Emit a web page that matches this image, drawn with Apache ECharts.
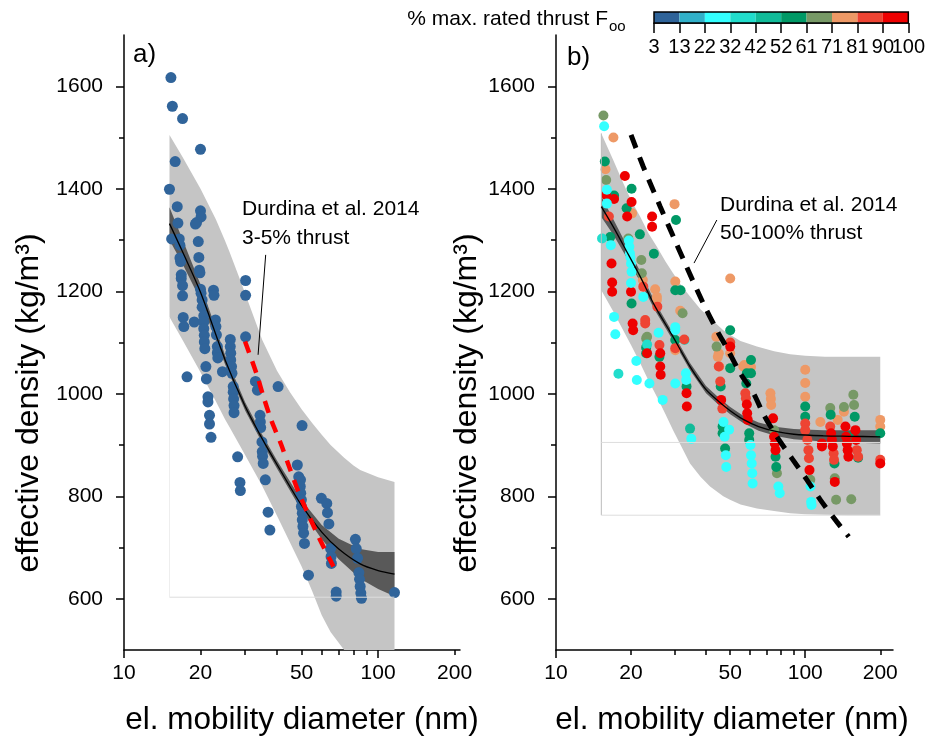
<!DOCTYPE html>
<html><head><meta charset="utf-8">
<script src="https://cdn.jsdelivr.net/npm/echarts@6.0.0/dist/echarts.min.js"></script>
<style>html,body{margin:0;padding:0;background:#fff}#c{width:928px;height:742px}</style>
</head><body><div id="c"></div>
<script>
const FONT = 'Liberation Sans, Arial, Helvetica, sans-serif';

// ---------- axis ticks / labels ----------
const xLabelVals = [10, 20, 50, 100, 200];
const xMajorTickVals = [10, 100];
const xMinorTickVals = [20, 30, 40, 50, 60, 70, 80, 90, 200];
const yLabelVals = [600, 800, 1000, 1200, 1400, 1600];
const yMinorTickVals = [700, 900, 1100, 1300, 1500];
const cbBounds = [3, 12.7, 22.4, 32.1, 41.8, 51.5, 61.2, 70.9, 80.6, 90.3, 100];
const cbLabels = ['3','13','22','32','42','52','61','71','81','90','100'];
const cbColors = ['#2f6399','#31b0c9','#33ffff','#22ddcc','#11bb99','#009966','#779966','#ee9966','#ee4433','#ee0000'];

// ---------- panel a ----------
const aDots = [[15.3,1617],[15.5,1561],[17.0,1537],[20.0,1477],[15.9,1453],[15.1,1399],[16.2,1365],[20.0,1357],[20.1,1345],[19.3,1334],[19.1,1331],[16.3,1333],[15.4,1302],[16.5,1302],[16.6,1290],[19.6,1297],[16.6,1265],[16.7,1258],[19.7,1266],[19.8,1241],[19.9,1236],[16.8,1232],[16.8,1225],[17.0,1211],[17.0,1191],[20.0,1204],[20.1,1196],[22.5,1202],[22.6,1192],[30.1,1221],[30.1,1192],[20.3,1183],[20.3,1169],[17.1,1149],[17.2,1131],[18.9,1140],[20.6,1152],[20.6,1140],[20.6,1127],[20.7,1114],[20.7,1101],[20.8,1088],[22.9,1144],[23.0,1131],[23.1,1115],[23.3,1092],[23.3,1080],[23.4,1070],[26.2,1106],[26.2,1092],[26.3,1079],[26.3,1066],[26.5,1053],[26.6,1040],[30.1,1111],[24.4,1043],[17.7,1033],[21.0,1053],[21.1,1029],[21.4,994],[21.4,984],[21.7,958],[21.7,941],[22.0,915],[26.9,1014],[26.9,1003],[27.0,990],[27.1,977],[27.1,963],[32.9,1024],[33.5,1007],[34.3,958],[34.4,945],[34.5,934],[34.9,906],[35.0,887],[35.1,878],[35.3,864],[40.4,1014],[28.0,877],[36.0,832],[28.6,827],[28.7,811],[36.9,769],[37.5,734],[50.2,938],[48.1,861],[48.7,838],[49.5,832],[49.4,819],[49.6,806],[49.9,793],[49.9,780],[50.3,767],[50.3,754],[50.6,741],[50.9,728],[51.3,708],[53.2,646],[59.8,796],[62.8,786],[63.2,768],[64.0,746],[65.0,698],[65.3,682],[65.5,669],[68.4,613],[68.4,605],[81.4,716],[82.0,698],[83.0,679],[84.0,651],[84.5,638],[85.0,624],[85.5,611],[86.0,601],[116,612]];

const aPredD  = [15.1,17,20,23,25,26,29,30,35,40,45,50,55,60,63,65,73.5,80,85,100,116];
const aPredHi = [1505,1462,1400,1340,1298,1277,1215,1195,1105,1045,1003,970,943,920,908,900,875,860,851,837,828];
const aPredLo = [1150,1105,1042,985,950,935,893,880,820,762,710,663,615,568,548,535,500,478,462,425,390];
const aFitD   = [15.1,17,20,25,30,35,40,50,60,70,85,100,116];
const aFit    = [1332,1277,1198,1066,975,912,862,782,730,697,668,655,648];
const aCiHalf = [32,24,15,9,8,8,8,10,14,20,29,36,43];
const aRefD   = [29.95,33.3,35.2,38.0,41.4,44.7,48.8,53.4,58.8,65.0,66.7];
const aRef    = [1102,1038,998,948,903,857,806,762,717,674,663];
const aLeader = [[36.1,1271],[33.7,1076]];
const aFrameH = [[15.1,603],[116,603]];
const aFrameV = [[15.1,603],[15.1,1150]];

// ---------- panel b ----------
const bRed = [[15.9,1388],[17.1,1380],[18.9,1425],[20.1,1374],[19.3,1346],[16.7,1254],[16.8,1217],[16.8,1199],[20.0,1199],[24.3,1346],[24.3,1326],[20.3,1137],[20.4,1124],[23.2,1079],[26.2,1079],[26.2,1053],[26.3,1037],[33.4,1001],[33.5,975],[46.0,988],[58.3,979],[58.5,962],[58.8,949],[74.3,952],[75.0,916],[75.5,903],[76.0,890],[104,851],[116.7,903],[116.7,897],[127,923],[128,910],[129,897],[131.4,828],[145,936],[146,916],[147,903],[148,890],[149,877],[159,929],[160,910],[200,864],[50,1092]];
const bRedOrange = [[16.3,1346],[22.4,1209],[25.5,1170],[22.8,1144],[22.8,1137],[30.1,1089],[32.7,1106],[26.0,1095],[45.0,1053],[45.6,1024],[46.5,971],[57.5,1001],[57.8,991],[100,942],[100,929],[102,910],[103,890],[103.5,874],[126,936],[130,884],[130.5,871],[161,890],[163,877],[200,871],[50,1100]];
const bSalmon = [[17.0,1500],[15.8,1438],[20.2,1352],[22.3,1222],[25.0,1204],[25.4,1189],[25.4,1183],[29.9,1370],[30.1,1219],[31.5,1162],[50,1225],[44.0,1111],[44.6,1072],[45.0,1079],[45.2,1053],[50,1079],[56.4,1053],[57.0,1056],[60.6,1052],[72.5,1001],[72.8,990],[73.0,978],[100,1047],[100,1021],[100,994],[115,945],[135,949],[143,965],[200,949],[200,936],[30.1,1085]];
const bOlive = [[15.5,1543],[15.9,1417],[19.5,1303],[22.0,1261],[22.1,1235],[23.0,1108],[23.2,1111],[32.2,1157],[44.1,1092],[75,929],[77,845],[104.8,832],[126,972],[131.4,835],[133,793],[143,974],[153,794],[156,998],[157,978]];
const bGreen = [[15.7,1453],[17.1,1387],[20.1,1400],[19.2,1362],[16.5,1306],[21.7,1311],[20.1,1176],[24.7,1273],[23.0,1090],[23.0,1079],[26.0,1072],[30.1,1105],[30.1,1202],[31.6,1202],[30.3,1339],[33.4,1014],[45.8,1014],[46.6,936],[46.6,923],[47.7,893],[50,1124],[50,1050],[58,1020],[58.3,1040],[59.6,923],[59.6,910],[60.6,1066],[60.6,1040],[76,877],[76.5,857],[100,975],[100,955],[126.5,959],[131,864],[150,916],[158,955],[163,875],[200,923]];
const bTeal = [[34.5,932]];
const bTurq = [[15.3,1303],[17.8,1039],[23.2,1096],[32.8,1105]];
const bCyan = [[15.6,1522],[16.0,1398],[16.0,1371],[16.6,1290],[19.6,1299],[19.7,1287],[19.8,1274],[19.9,1266],[20.0,1254],[20.1,1238],[20.0,1216],[22.4,1189],[17.1,1150],[17.3,1116],[25.8,1119],[30.1,1124],[30.1,1130],[33.2,1040],[33.3,1027],[21.0,1064],[21.1,1027],[23.7,1020],[26.8,988],[30.1,1020],[34.9,912],[47,945],[47.5,916],[49.5,930],[48,880],[48.2,857],[60.3,900],[60.6,880],[61,864],[61.3,845],[61.5,825],[78,819],[79,806],[105,819],[105.6,789],[106,783]];

const bPredD  = [15.2,17,18.6,20,21.8,23.5,25.4,27.5,29.5,32,34.5,38,41.5,46.9,49.9,55,64,75,87,100,120,150,200];
const bPredHi = [1508,1455,1411,1378,1345,1313,1287,1258,1235,1210,1190,1165,1148,1124,1115,1103,1092,1083,1077,1074,1072,1072,1072];
const bPredLo = [1202,1160,1124,1095,1059,1026,994,960,929,895,864,838,819,800,793,784,776,771,767,765,764,763,763];
const bFitD   = [15.2,17,19,21.8,25,29.5,34.5,40,45,50,56.4,65,77,90,118,150,200];
const bFit    = [1365,1325,1282,1228,1170,1111,1053,1008,985,967,950,936,926,921,918,917,916];
const bCiHalf = [20,15,12,10,8,7,7,7,7,7,7,8,9,10,11,12,13];
const bRefD   = [20,22.4,26.2,29.6,32.5,39.0,44.2,48.5,54.9,62.0,68.2,77.0,88.4,101.6,115,134,149.5];
const bRef    = [1505,1443,1365,1306,1261,1176,1124,1089,1040,1001,959,916,874,832,793,750,721];
const bLeader = [[44.2,1339],[35.8,1255]];
const bFrameV = [[15.2,763],[15.2,1508]];
const bFrameH1 = [[15.2,905],[200,905]];
const bFrameH2 = [[15.2,763],[200,763]];

// ---------- helpers ----------
const zip = (d, v) => d.map((x, i) => [x, v[i]]);
const AX = {color: '#000', width: 1.5};
function bandSeries(xi, yi, d, lo, hi, color) {
  return {
    type: 'custom', xAxisIndex: xi, yAxisIndex: yi, silent: true,
    data: [[d[0], hi[0]]],
    renderItem: (params, api) => {
      const top = d.map((x, i) => api.coord([x, hi[i]]));
      const bot = d.map((x, i) => api.coord([x, lo[i]])).reverse();
      const cs = params.coordSys;
      return {
        type: 'group',
        clipPath: {type: 'rect', shape: {x: cs.x, y: cs.y, width: cs.width, height: cs.height}},
        children: [{type: 'polygon', shape: {points: top.concat(bot)}, style: {fill: color, stroke: null}}]
      };
    }
  };
}
function plainLine(xi, yi, data, color, width, type, smooth) {
  return {type: 'line', xAxisIndex: xi, yAxisIndex: yi, data: data, symbol: 'none', smooth: smooth || false, silent: true,
          lineStyle: {color: color, width: width, type: type || 'solid', cap: 'butt'}};
}
function dots(xi, yi, data, color, size) {
  return {type: 'scatter', xAxisIndex: xi, yAxisIndex: yi, data: data, symbolSize: size, silent: true,
          itemStyle: {color: color, opacity: 1}};
}
function logX(grid, max) {
  return [
    {type: 'log', logBase: 10, gridIndex: grid, min: 10, max: max, position: 'bottom',
     axisLine: {show: true, onZero: false, lineStyle: AX}, axisTick: {show: false}, axisLabel: {show: false},
     splitLine: {show: false}, minorTick: {show: false}},
    {type: 'value', gridIndex: grid, min: 1, max: Math.log10(max), position: 'bottom',
     axisLine: {show: false, onZero: false},
     axisTick: {show: true, customValues: xMajorTickVals.map(Math.log10), length: 8, lineStyle: AX},
     axisLabel: {show: true, customValues: xLabelVals.map(Math.log10), formatter: v => String(Math.round(Math.pow(10, v))),
                 fontSize: 21, fontFamily: FONT, color: '#000', margin: 13, showMinLabel: true, showMaxLabel: true, hideOverlap: false},
     splitLine: {show: false}},
    {type: 'value', gridIndex: grid, min: 1, max: Math.log10(max), position: 'bottom',
     axisLine: {show: false, onZero: false},
     axisTick: {show: true, customValues: xMinorTickVals.map(Math.log10), length: 5, lineStyle: AX},
     axisLabel: {show: false}, splitLine: {show: false}}
  ];
}
function valY(grid) {
  return [
    {type: 'value', gridIndex: grid, min: 500, max: 1700, position: 'left',
     axisLine: {show: true, onZero: false, lineStyle: AX},
     axisTick: {show: true, customValues: yLabelVals, length: 8, lineStyle: AX},
     axisLabel: {show: true, customValues: yLabelVals, formatter: v => String(v), fontSize: 21, fontFamily: FONT, color: '#000', margin: 21},
     splitLine: {show: false}},
    {type: 'value', gridIndex: grid, min: 500, max: 1700, position: 'left',
     axisLine: {show: false, onZero: false},
     axisTick: {show: true, customValues: yMinorTickVals, length: 5, lineStyle: AX},
     axisLabel: {show: false}, splitLine: {show: false}}
  ];
}
const cbLabelFmt = v => cbLabels[cbBounds.findIndex(b => Math.abs(b - v) < 1e-6)] || '';
// colorbar labels are split over two overlaid axes (alternating) so that touching labels are not dropped
const cbEven = cbBounds.filter((b, i) => i % 2 === 0);
const cbOdd = cbBounds.filter((b, i) => i % 2 === 1);
function cbAxis(vals, withLine) {
  return {type: 'value', gridIndex: 2, min: 3, max: 100, position: 'bottom',
     axisLine: {show: withLine, onZero: false, lineStyle: AX},
     axisTick: {show: withLine, customValues: cbBounds, length: 10, lineStyle: AX},
     axisLabel: {show: true, customValues: vals, formatter: cbLabelFmt,
                 fontSize: 20, fontFamily: FONT, color: '#000', margin: 14,
                 showMinLabel: true, showMaxLabel: true, hideOverlap: false},
     splitLine: {show: false}};
}

const series = [];
// panel a (x 0, y 0)
series.push(plainLine(0, 0, aFrameH, '#dddddd', 1));
series.push(plainLine(0, 0, aFrameV, '#eeeeee', 1));
series.push(bandSeries(0, 0, aPredD, aPredLo, aPredHi, '#c5c5c5'));
series.push(bandSeries(0, 0, aFitD, aFit.map((f, i) => f - aCiHalf[i]), aFit.map((f, i) => f + aCiHalf[i]), '#595959'));
series.push(plainLine(0, 0, zip(aFitD, aFit), '#000', 1.3, 'solid', 0.3));
series.push(dots(0, 0, aDots, '#30649a', 11));
series.push(plainLine(0, 0, zip(aRefD, aRef), '#ff0000', 4.5, [12, 9], 0.3));
series.push(plainLine(0, 0, aLeader, '#000', 1));
// panel b (x 3, y 2)
series.push(plainLine(3, 2, bFrameV, '#bbbbbb', 1));
series.push(plainLine(3, 2, bFrameH1, '#dddddd', 1));
series.push(plainLine(3, 2, bFrameH2, '#dddddd', 1));
series.push(bandSeries(3, 2, bPredD, bPredLo, bPredHi, '#c5c5c5'));
series.push(bandSeries(3, 2, bFitD, bFit.map((f, i) => f - bCiHalf[i]), bFit.map((f, i) => f + bCiHalf[i]), '#595959'));
series.push(plainLine(3, 2, zip(bFitD, bFit), '#000', 1.3, 'solid', 0.3));
series.push(dots(3, 2, bSalmon, cbColors[7], 10));
series.push(dots(3, 2, bOlive, cbColors[6], 10));
series.push(dots(3, 2, bGreen, cbColors[5], 10));
series.push(dots(3, 2, bTeal, cbColors[4], 10));
series.push(dots(3, 2, bTurq, cbColors[3], 10));
series.push(dots(3, 2, bRedOrange, cbColors[8], 10));
series.push(dots(3, 2, bRed, cbColors[9], 10));
series.push(dots(3, 2, bCyan, cbColors[2], 10));
series.push(plainLine(3, 2, zip(bRefD, bRef), '#000', 5, [14, 10], 0.3));
series.push(plainLine(3, 2, bLeader, '#000', 1));
// colorbar (x 6, y 4)
series.push({
  type: 'custom', xAxisIndex: 6, yAxisIndex: 4, silent: true,
  data: cbColors.map((c, i) => [cbBounds[i], cbBounds[i + 1], i]),
  renderItem: (params, api) => {
    const p0 = api.coord([api.value(0), 1]);
    const p1 = api.coord([api.value(1), 0]);
    return {type: 'rect', shape: {x: p0[0], y: p0[1], width: p1[0] - p0[0], height: p1[1] - p0[1]},
            style: {fill: cbColors[api.value(2)]}};
  }
});

const yTitle = 'effective density (kg/m³)';
const xTitle = 'el. mobility diameter (nm)';
const option = {
  animation: false,
  backgroundColor: '#fff',
  grid: [
    {left: 124, top: 35, width: 336, height: 615},
    {left: 556, top: 35, width: 337, height: 615},
    {left: 654, top: 12, width: 257, height: 11, show: true, borderColor: '#000', borderWidth: 1.5,
     backgroundColor: 'transparent', z: 10}
  ],
  xAxis: [
    ...logX(0, 210),
    ...logX(1, 225),
    cbAxis(cbEven, true),
    cbAxis(cbOdd, false)
  ],
  yAxis: [
    ...valY(0),
    ...valY(1),
    {type: 'value', gridIndex: 2, min: 0, max: 1, show: false, splitLine: {show: false}}
  ],
  graphic: [
    {type: 'text', left: 133, top: 42, style: {text: 'a)', fontSize: 26, fontFamily: FONT, fill: '#000'}},
    {type: 'text', left: 567, top: 45, style: {text: 'b)', fontSize: 26, fontFamily: FONT, fill: '#000'}},
    {type: 'text', left: 242, top: 195, style: {text: 'Durdina et al. 2014\n3-5% thrust', fontSize: 21, lineHeight: 29, fontFamily: FONT, fill: '#000'}},
    {type: 'text', left: 720, top: 191, style: {text: 'Durdina et al. 2014\n50-100% thrust', fontSize: 21, lineHeight: 28, fontFamily: FONT, fill: '#000'}},
    {type: 'text', x: 608, y: 19, style: {text: '% max. rated thrust F', align: 'right', verticalAlign: 'middle', fontSize: 21, fontFamily: FONT, fill: '#000'}},
    {type: 'text', x: 609, y: 27, style: {text: 'oo', align: 'left', verticalAlign: 'middle', fontSize: 15, fontFamily: FONT, fill: '#000'}},
    {type: 'text', x: 302, y: 720, style: {text: xTitle, align: 'center', verticalAlign: 'middle', fontSize: 31.5, fontFamily: FONT, fill: '#000'}},
    {type: 'text', x: 732, y: 720, style: {text: xTitle, align: 'center', verticalAlign: 'middle', fontSize: 31.5, fontFamily: FONT, fill: '#000'}},
    {type: 'text', x: 29, y: 403, rotation: Math.PI / 2, style: {text: yTitle, align: 'center', verticalAlign: 'middle', fontSize: 32, fontFamily: FONT, fill: '#000'}},
    {type: 'text', x: 467, y: 403, rotation: Math.PI / 2, style: {text: yTitle, align: 'center', verticalAlign: 'middle', fontSize: 32, fontFamily: FONT, fill: '#000'}}
  ],
  series: series
};

const chart = echarts.init(document.getElementById('c'), null, {renderer: 'canvas'});
chart.setOption(option);
</script>
</body></html>
